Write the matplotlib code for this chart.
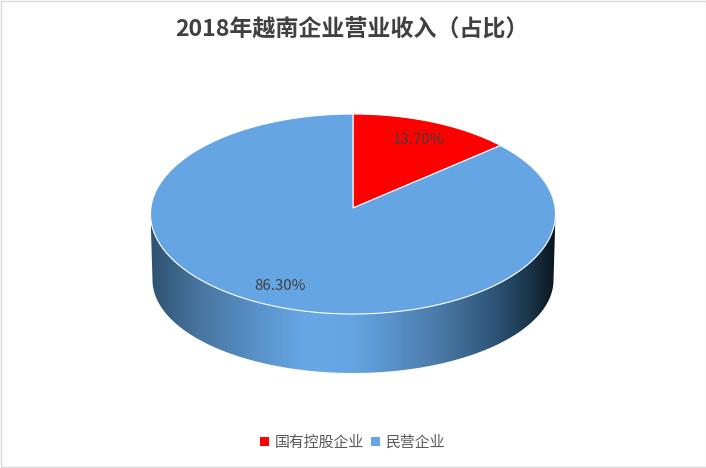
import numpy as np
import matplotlib
matplotlib.use("Agg")
import matplotlib.pyplot as plt
from matplotlib.colors import LinearSegmentedColormap
from matplotlib.patches import Patch, Polygon, Rectangle

plt.rcParams['font.family'] = ['Noto Sans CJK SC', 'DejaVu Sans']

title = "2018年越南企业营业收入（占比）"
categories = ["国有控股企业", "民营企业"]
shares = [13.70, 86.30]
labels = ["13.70%", "86.30%"]
colors = ["#ff0000", "#65a5e3"]

# top ellipse and rim, in image pixels
cx, cy, rx, ry = 353, 214, 202.5, 100
apex_shift = 0.06  # perspective: true centre sits above the ellipse centre
rim_cy, rim_rx, rim_ry = 280, 200.5, 93


def disc_point(angle):
    # angle clockwise from the top, pushed through the perspective
    u, v = np.sin(angle), np.cos(angle)
    c = apex_shift
    v2 = (v + c) / (1 + c * v)
    u2 = u * np.sqrt(1 - c * c) / (1 + c * v)
    return cx + rx * u2, cy - ry * v2


fig = plt.figure(figsize=(7.06, 4.68), dpi=100)
ax = fig.add_axes([0, 0, 1, 1])
ax.set_xlim(0, 706)
ax.set_ylim(468, 0)
ax.axis("off")

ax.add_patch(Rectangle((0.5, 0.5), 705, 466.5, fc="white", ec="#d9d9d9", lw=1))

# side of the disc with its shading
stops = [(0.0, "#2f5270"), (0.11, "#47739e"), (0.27, "#5a93cb"), (0.38, "#67a8e7"),
         (0.50, "#65a5e3"), (0.69, "#4d7fae"), (0.85, "#2e5477"), (0.94, "#1a3347"),
         (1.0, "#09151e")]
cmap = LinearSegmentedColormap.from_list("side", stops)
t = np.linspace(-np.pi / 2, np.pi / 2, 200)
upper = np.column_stack([cx + rx * np.sin(t), cy + ry * np.cos(t)])
lower = np.column_stack([cx + rim_rx * np.sin(t), rim_cy + rim_ry * np.cos(t)])[::-1]
side = Polygon(np.vstack([upper, lower]), closed=True, fc="none", ec="none")
ax.add_patch(side)
im = ax.imshow(np.linspace(0, 1, 512)[None, :], cmap=cmap, aspect="auto",
               extent=(cx - rx, cx + rx, cy + ry + 70, cy - 10), zorder=1)
im.set_clip_path(side)
ax.set_xlim(0, 706)
ax.set_ylim(468, 0)

# slices on the top face
start = 0.0
for share, color in zip(shares, colors):
    stop = start + share / sum(shares) * 2 * np.pi
    a = np.linspace(start, stop, 240)
    pts = [disc_point(x) for x in a]
    pts.append((cx, cy - ry * apex_shift))
    ax.add_patch(Polygon(pts, closed=True, fc=color, ec="white", lw=0.8, zorder=2))
    start = stop

ax.text(418, 140, labels[0], color="#404040", fontsize=10.8, ha="center", va="center", zorder=3)
ax.text(280, 286, labels[1], color="#404040", fontsize=10.8, ha="center", va="center", zorder=3)

ax.text(352, 29, title, color="#404040", fontsize=16.6, fontweight="bold", ha="center", va="center")

handles = [Patch(fc=c, ec="none") for c in colors]
ax.legend(handles, categories, loc="center", bbox_to_anchor=(352.5 / 706, 1 - 443 / 468), ncol=2,
          frameon=False, fontsize=10.75, labelcolor="#595959", handlelength=0.58, handleheight=0.58,
          handletextpad=0.4, columnspacing=0.48)

fig.savefig("out.png", dpi=100)
